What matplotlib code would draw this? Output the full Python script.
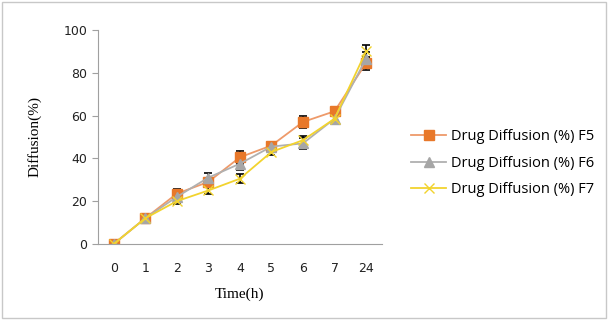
import matplotlib
matplotlib.use("Agg")
import matplotlib.pyplot as plt
from matplotlib.patches import Rectangle
from matplotlib.lines import Line2D

categories = ["0", "1", "2", "3", "4", "5", "6", "7", "24"]
f5 = [0, 12, 23.5, 29, 40.5, 46, 57, 62, 84.5]
f6 = [0, 12, 22, 31, 37.5, 45.5, 47, 58.5, 86.5]
f7 = [0, 12, 20, 25, 30.5, 43, 48.5, 58.5, 90]
f5_err = [0, 1, 2, 2, 3, 1.5, 3, 1.5, 3]
f6_err = [0, 1, 1.5, 2, 3, 1.5, 2.5, 1.5, 3]
f7_err = [0, 1, 1.5, 1.5, 2, 1.5, 2, 1.5, 3]
labels = ["Drug Diffusion (%) F5", "Drug Diffusion (%) F6", "Drug Diffusion (%) F7"]

fig = plt.figure(figsize=(6.08, 3.2), dpi=100)
fig.patches.append(Rectangle((0.004, 0.006), 0.992, 0.988, transform=fig.transFigure,
                             fill=False, edgecolor="#c8c8c8", linewidth=1))
ax = fig.add_axes([0.161, 0.2375, 0.467, 0.669])
x = list(range(len(categories)))

styles = [
    (f5, f5_err, "#E8782A", "#EE9A6A", "s", 7, labels[0]),
    (f6, f6_err, "#A6A6A6", "#B0B0B0", "^", 7, labels[1]),
    (f7, f7_err, "#F2D32E", "#F2D32E", "x", 7, labels[2]),
]
handles = []
for vals, err, mc, lc, m, ms, lab in styles:
    ax.errorbar(x, vals, yerr=err, color=lc, ecolor="black", elinewidth=1.2,
                capsize=3, capthick=1.2, marker=m, markersize=ms,
                markerfacecolor=mc, markeredgecolor=mc, linewidth=1.3)
    handles.append(Line2D([], [], color=lc, marker=m, markersize=ms,
                          markerfacecolor=mc, markeredgecolor=mc, linewidth=1.3, label=lab))

ax.set_xlim(-0.5, 8.5)
ax.set_ylim(0, 100)
ax.set_yticks([0, 20, 40, 60, 80, 100])
ax.set_xticks(x)
ax.set_xticklabels(categories)
for s in ["top", "right"]:
    ax.spines[s].set_visible(False)
for s in ["left", "bottom"]:
    ax.spines[s].set_color("#a0a0a0")
ax.tick_params(axis="y", direction="out", length=4, color="#a0a0a0", labelsize=9, labelcolor="#222222")
ax.tick_params(axis="x", length=0, labelsize=9, pad=13, labelcolor="#222222")
ax.set_ylabel("Diffusion(%)", family="Liberation Serif", fontsize=11, labelpad=16)
ax.set_xlabel("Time(h)", family="Liberation Serif", fontsize=11, labelpad=9)

fig.legend(handles=handles, loc="center left", bbox_to_anchor=(0.655, 0.49),
           frameon=False, handlelength=2.4, handletextpad=0.35, labelspacing=0.78,
           prop={"family": "Open Sans", "size": 10.5})
fig.savefig("out.png", dpi=100)
